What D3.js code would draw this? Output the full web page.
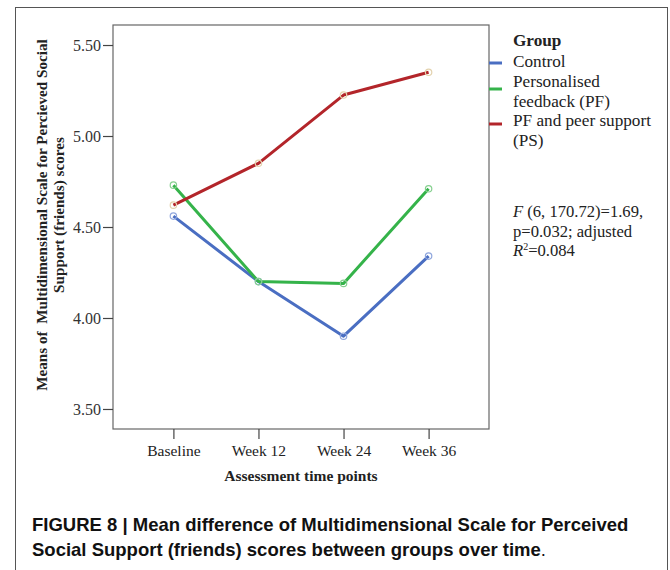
<!DOCTYPE html>
<html>
<head>
<meta charset="utf-8">
<script src="https://cdn.jsdelivr.net/npm/d3@7"></script>
<style>
  body { margin: 0; background: #fff; }
  svg { display: block; }
</style>
</head>
<body>
<div id="content"></div>
<script>
// data
var timePoints = ["Baseline", "Week 12", "Week 24", "Week 36"];
var groups = ["Control", "Personalised feedback (PF)", "PF and peer support (PS)"];
var controlMeans = [4.56, 4.20, 3.90, 4.34];
var pfMeans = [4.73, 4.20, 4.19, 4.71];
var psMeans = [4.62, 4.85, 5.225, 5.35];
var yTicks = [3.50, 4.00, 4.50, 5.00, 5.50];

var W = 670, H = 570;
var plot = {left: 113, top: 25, right: 489, bottom: 429};

var svg = d3.select("#content").append("svg")
    .attr("width", W)
    .attr("height", H);

// outer frame of the figure
svg.append("rect")
    .attr("x", 15.5).attr("y", 7.5)
    .attr("width", 652).attr("height", 580)
    .attr("fill", "none")
    .attr("stroke", "#555").attr("stroke-width", 1);

var x = d3.scalePoint()
    .domain(timePoints)
    .range([plot.left, plot.right])
    .padding(0.71);

var y = d3.scaleLinear()
    .domain([3.39, 5.61])
    .range([plot.bottom, plot.top]);

// plot box
svg.append("rect")
    .attr("x", plot.left).attr("y", plot.top)
    .attr("width", plot.right - plot.left)
    .attr("height", plot.bottom - plot.top)
    .attr("fill", "#fff")
    .attr("stroke", "#666").attr("stroke-width", 1.2);

var serif = "'Liberation Serif', 'Times New Roman', serif";

var yAxis = svg.append("g")
    .attr("transform", "translate(" + plot.left + ",0)")
    .call(d3.axisLeft(y).tickValues(yTicks).tickFormat(d3.format(".2f")).tickSize(10).tickPadding(2));
yAxis.select(".domain").remove();
yAxis.selectAll("line").attr("stroke", "#444").attr("stroke-width", 1.2);
yAxis.selectAll("text").attr("font-family", serif).attr("font-size", 16).attr("fill", "#333");

var xAxis = svg.append("g")
    .attr("transform", "translate(0," + plot.bottom + ")")
    .call(d3.axisBottom(x).tickSize(10).tickPadding(6));
xAxis.select(".domain").remove();
xAxis.selectAll("line").attr("stroke", "#444").attr("stroke-width", 1.2);
xAxis.selectAll("text").attr("font-family", serif).attr("font-size", 15.5).attr("fill", "#222");

// axis titles
svg.append("text")
    .attr("x", (plot.left + plot.right) / 2)
    .attr("y", 481)
    .attr("text-anchor", "middle")
    .attr("font-family", serif).attr("font-weight", "bold").attr("font-size", 15.5)
    .attr("fill", "#222")
    .text("Assessment time points");

var ytitle = svg.append("text")
    .attr("transform", "translate(0,215) rotate(-90)")
    .attr("text-anchor", "middle")
    .attr("font-family", serif).attr("font-weight", "bold").attr("font-size", 15.2)
    .attr("fill", "#222");
ytitle.append("tspan").attr("x", 0).attr("y", 47).text("Means of\u00a0 Multidimensional Scale for Percieved Social");
ytitle.append("tspan").attr("x", 0).attr("y", 64).text("Support (friends) scores");

// series
var series = [
  {name: groups[0], values: controlMeans, color: "#4a6ec2", marker: "#8fa6dd"},
  {name: groups[1], values: pfMeans, color: "#35b34a", marker: "#86d08f"},
  {name: groups[2], values: psMeans, color: "#b3252a", marker: "#e3d2ae"}
];

var line = d3.line()
    .x(function(d, i) { return x(timePoints[i]); })
    .y(function(d) { return y(d); });

series.forEach(function(s) {
  svg.append("path")
      .datum(s.values)
      .attr("d", line)
      .attr("fill", "none")
      .attr("stroke", s.color)
      .attr("stroke-width", 3)
      .attr("stroke-linejoin", "round");
});
series.forEach(function(s) {
  svg.selectAll(null)
      .data(s.values)
      .enter().append("circle")
      .attr("cx", function(d, i) { return x(timePoints[i]); })
      .attr("cy", function(d) { return y(d); })
      .attr("r", 3.2)
      .attr("fill", "none")
      .attr("stroke", s.marker)
      .attr("stroke-width", 1.2);
});

// legend
var leg = svg.append("g").attr("font-family", serif).attr("font-size", 17.2).attr("fill", "#222");
leg.append("text").attr("x", 513).attr("y", 46).attr("font-weight", "bold").text("Group");
var legendLines = [["Control"], ["Personalised", "feedback (PF)"], ["PF and peer support", "(PS)"]];
var legendTop = [67, 87, 126];
var swatchY = [63, 89, 124];
legendLines.forEach(function(lines, k) {
  svg.append("line")
      .attr("x1", 489).attr("x2", 502)
      .attr("y1", swatchY[k]).attr("y2", swatchY[k])
      .attr("stroke", series[k].color).attr("stroke-width", 3);
  lines.forEach(function(t, j) {
    leg.append("text").attr("x", 513).attr("y", legendTop[k] + j * 19.5).text(t);
  });
});

// statistics note
var note = svg.append("g").attr("font-family", serif).attr("font-size", 16.6).attr("fill", "#222");
var n1 = note.append("text").attr("x", 513).attr("y", 217);
n1.append("tspan").attr("font-style", "italic").text("F");
n1.append("tspan").text(" (6, 170.72)=1.69,");
note.append("text").attr("x", 513).attr("y", 237).text("p=0.032; adjusted");
var n3 = note.append("text").attr("x", 513).attr("y", 256);
n3.append("tspan").attr("font-style", "italic").text("R");
n3.append("tspan").attr("font-size", 10).attr("dy", -6).text("2");
n3.append("tspan").attr("dy", 6).text("=0.084");

// caption
var cap = svg.append("g")
    .attr("font-family", "'Liberation Sans', Arial, sans-serif")
    .attr("font-weight", "bold").attr("font-size", 18.5).attr("fill", "#111");
cap.append("text").attr("x", 32).attr("y", 531)
    .text("FIGURE 8 | Mean difference of Multidimensional Scale for Perceived");
var c2 = cap.append("text").attr("x", 32).attr("y", 556);
c2.append("tspan").text("Social Support (friends) scores between groups over time");
c2.append("tspan").attr("font-weight", "normal").text(".");
</script>
</body>
</html>
